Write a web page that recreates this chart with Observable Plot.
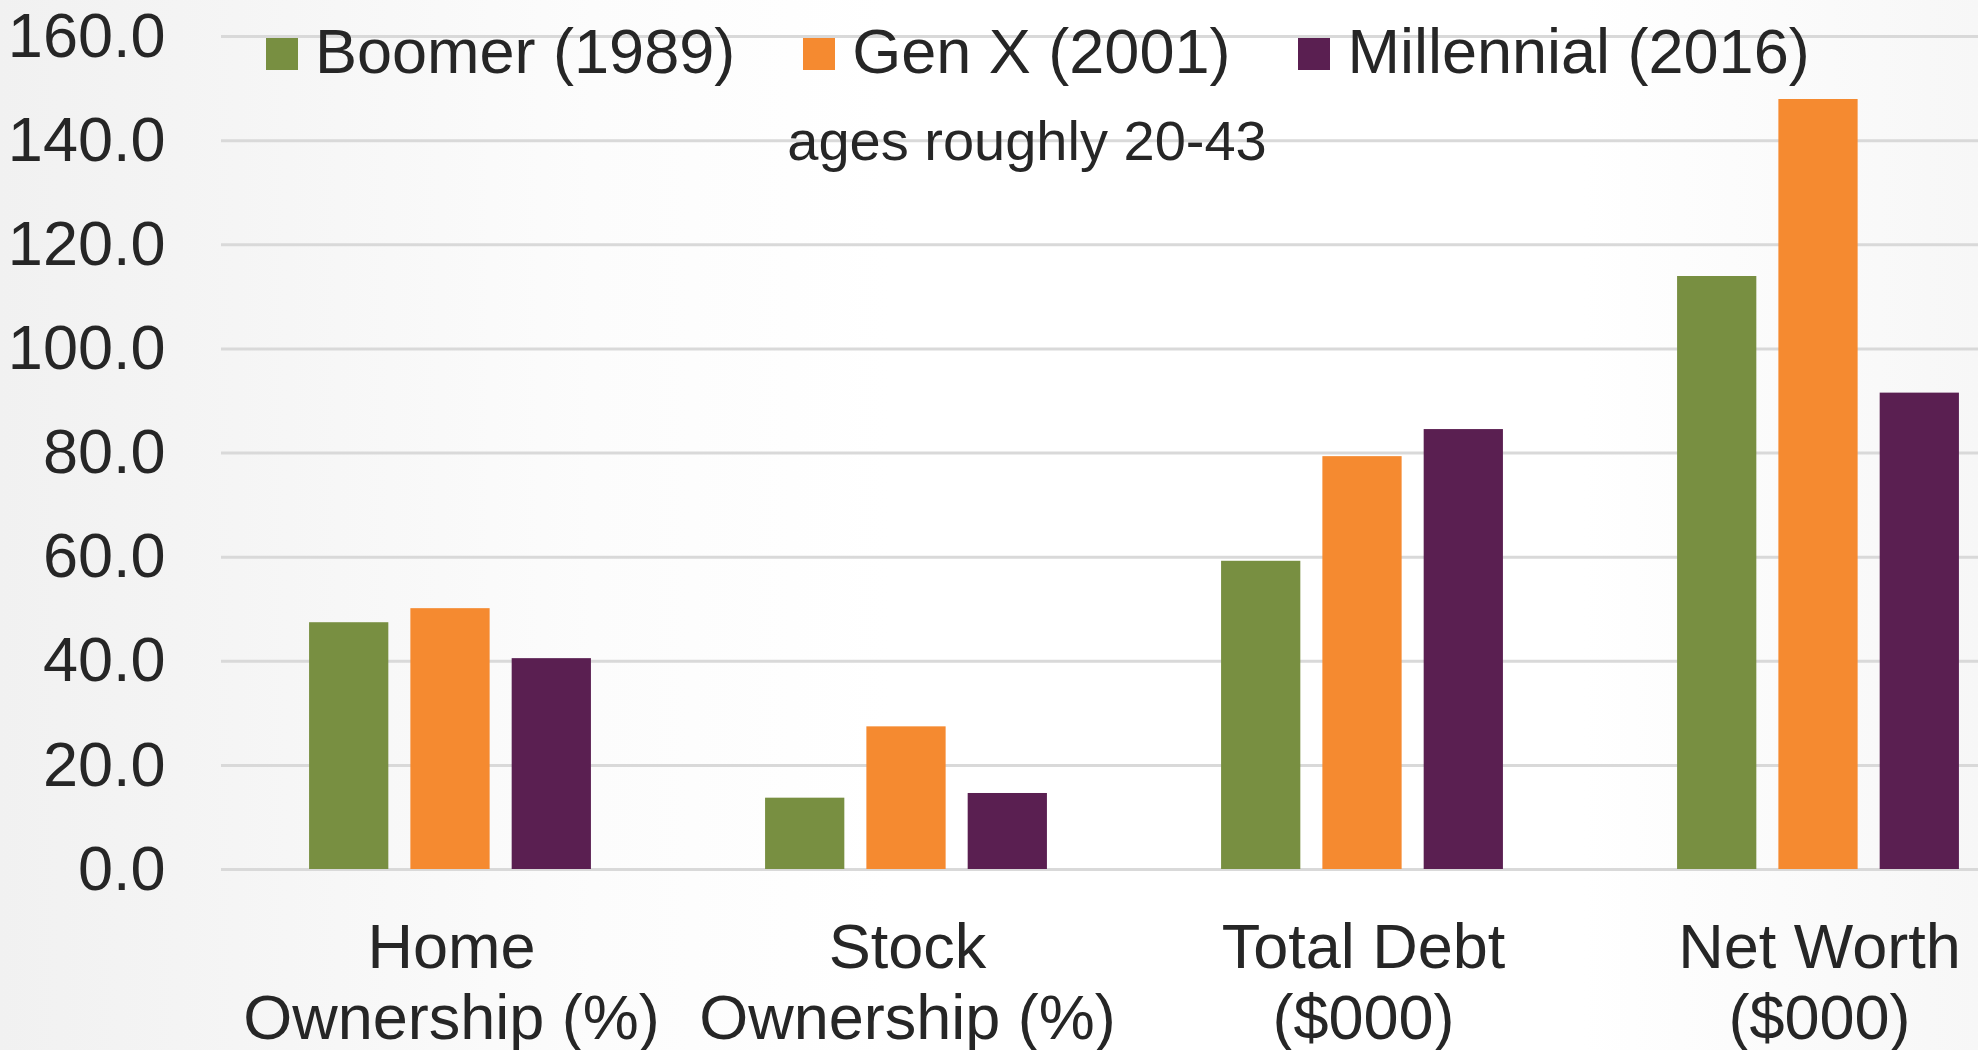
<!DOCTYPE html>
<html>
<head>
<meta charset="utf-8">
<script src="https://cdn.jsdelivr.net/npm/d3@7"></script>
<script src="https://cdn.jsdelivr.net/npm/@observablehq/plot@0.6"></script>
<style>
  html, body { margin: 0; padding: 0; }
  body {
    width: 1978px; height: 1050px; position: relative; overflow: hidden;
    font-family: "Liberation Sans", Arial, sans-serif; color: #262626;
    background: linear-gradient(to right, #f1f1f1 0%, #f5f5f5 12%, #fcfcfc 30%, #ffffff 45%, #ffffff 80%, #f7f7f7 100%);
  }
  #chart { position: absolute; left: 0; top: 0; }
  .legend { position: absolute; left: 266px; top: 20px; display: flex; gap: 68px; font-size: 63px; line-height: 1; white-space: nowrap; }
  .legend .item { display: flex; align-items: flex-start; gap: 17px; }
  .legend .sw { width: 32px; height: 32px; margin-top: 18px; }
  .subtitle { position: absolute; left: 1027px; top: 113px; transform: translateX(-50%); font-size: 56px; line-height: 1; white-space: nowrap; }
</style>
</head>
<body>
<div id="chart"></div>
<div class="legend" id="legend"></div>
<div class="subtitle">ages roughly 20-43</div>
<script>
// Data
const categories = ["Home Ownership (%)", "Stock Ownership (%)", "Total Debt ($000)", "Net Worth ($000)"];
const categoryLabels = ["Home\nOwnership (%)", "Stock\nOwnership (%)", "Total Debt\n($000)", "Net Worth\n($000)"];
const seriesNames = ["Boomer (1989)", "Gen X (2001)", "Millennial (2016)"];
const seriesColors = ["#788f41", "#f58a30", "#5a1f51"];
const boomer = [47.4, 13.7, 59.2, 113.9];
const genX = [50.1, 27.4, 79.3, 147.9];
const millennial = [40.5, 14.6, 84.5, 91.5];
const yTicks = [0, 20, 40, 60, 80, 100, 120, 140, 160];

const seriesValues = [boomer, genX, millennial];
const rows = [];
seriesNames.forEach((s, si) => categories.forEach((c, ci) => rows.push({category: c, series: s, value: seriesValues[si][ci]})));

const bandStep = 456.75, barWidth = 80, barPitch = 101.3;
const inset = (bandStep - barWidth) / 2;

const barMarks = seriesNames.map((s, si) =>
  Plot.barY(rows.filter(r => r.series === s), {
    x: "category", y: "value", fill: seriesColors[si],
    dx: (si - 1) * barPitch - 1, insetLeft: inset, insetRight: inset
  })
);

const plot = Plot.plot({
  width: 1978,
  height: 1050,
  marginLeft: 221,
  marginRight: 0,
  marginTop: 36,
  marginBottom: 181,
  style: {background: "transparent", fontFamily: "'Liberation Sans', Arial, sans-serif", color: "#262626", overflow: "visible"},
  x: {domain: categories, range: [221, 221 + 4 * bandStep], padding: 0, axis: null},
  y: {domain: [0, 160], axis: null},
  marks: [
    Plot.ruleY(yTicks, {stroke: "#d9d9d9", strokeWidth: 3}),
    ...barMarks,
    Plot.axisY(yTicks, {tickSize: 0, tickPadding: 56, fontSize: 63, tickFormat: d => d.toFixed(1), label: null, fill: "#262626"}),
    Plot.text(categories, {
      x: d => d, y: () => 0, text: (d, i) => categoryLabels[i],
      lineAnchor: "top", dy: 47, fontSize: 63, lineHeight: 1.14, fill: "#262626"
    })
  ]
});
document.getElementById("chart").appendChild(plot);

const legend = document.getElementById("legend");
seriesNames.forEach((s, i) => {
  const item = document.createElement("div");
  item.className = "item";
  const sw = document.createElement("div");
  sw.className = "sw";
  sw.style.background = seriesColors[i];
  const t = document.createElement("span");
  t.textContent = s;
  item.appendChild(sw);
  item.appendChild(t);
  legend.appendChild(item);
});
</script>
</body>
</html>
